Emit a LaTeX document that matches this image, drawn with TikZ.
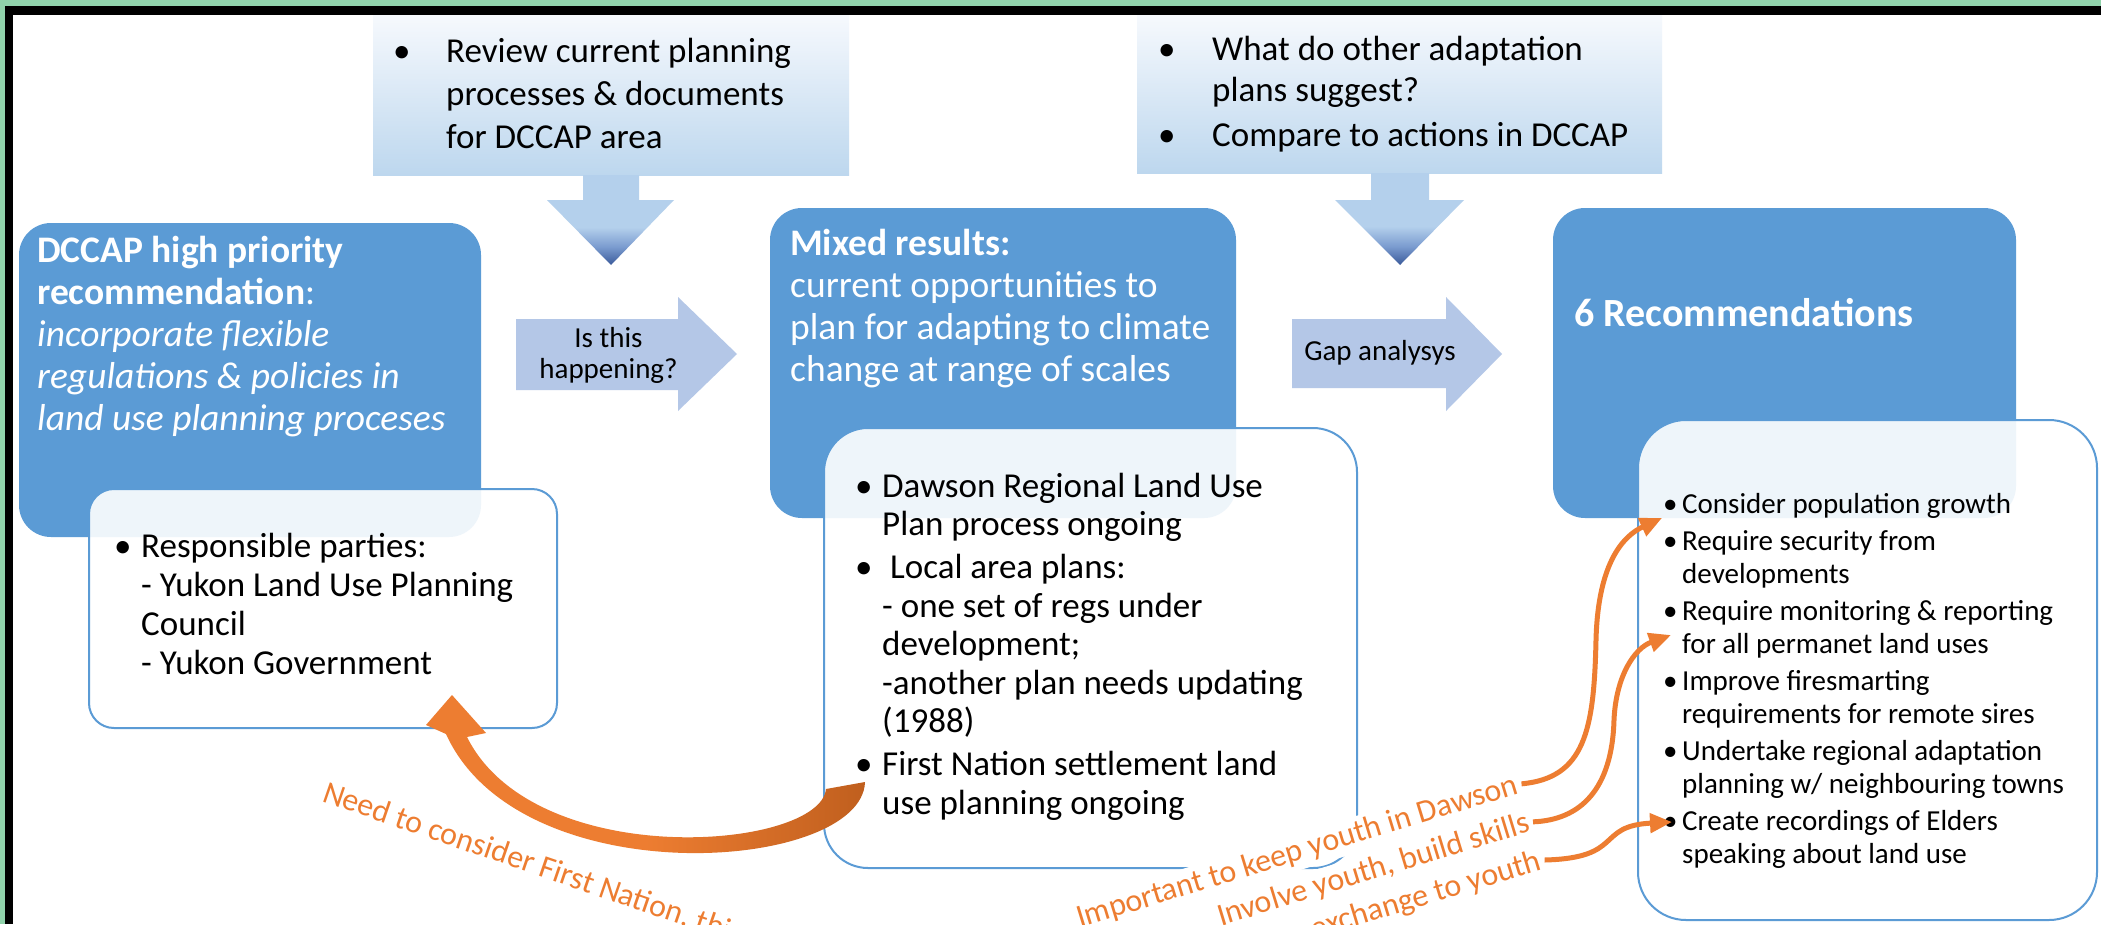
\documentclass[tikz,border=0pt]{standalone}
\usepackage{fontspec}
\setmainfont{Carlito}
\usetikzlibrary{arrows.meta}

\definecolor{edgegreen}{HTML}{90D3AB}
\definecolor{boxblue}{HTML}{5B9BD5}
\definecolor{paleblue}{HTML}{B4C7E7}
\definecolor{fadetop}{HTML}{F6F9FD}
\definecolor{fadebot}{HTML}{BDD7EE}
\definecolor{tiplight}{HTML}{B4D0EC}
\definecolor{tipmid}{HTML}{7A9BCF}
\definecolor{tipdark}{HTML}{3A5A9A}
\definecolor{accent}{HTML}{ED7D31}
\definecolor{accentdark}{HTML}{C05F1E}

\pgfdeclareverticalshading{dropshade}{100bp}{color(0bp)=(tipdark); color(25bp)=(tipdark); color(35bp)=(tipmid); color(46bp)=(tiplight); color(100bp)=(tiplight)}

\newcommand\bul[1]{\makebox[#1][l]{\textbullet}}
\newcommand\indt[1]{\hspace*{#1}}

\begin{document}
\begin{tikzpicture}[x=1pt, y=-1pt,
    blockbox/.style={fill=boxblue, rounded corners=32pt},
    panel/.style={draw=boxblue, line width=2pt, fill=white, fill opacity=0.9},
    fadebox/.style={top color=fadetop, bottom color=fadebot},
    droparrow/.style={shading=dropshade},
    sidearrow/.style={fill=paleblue},
    body/.style={inner sep=0, anchor=north west, align=left},
    note/.style={text=accent, font=\fontsize{32}{38}\selectfont},
    feed/.style={draw=accent, line width=5pt, -{Triangle[length=22pt,width=19pt]}}]
    \useasboundingbox (0,0) rectangle (2101,924);
    \clip (0,0) rectangle (2101,924);
    \fill[edgegreen] (0,0) rectangle (2101,924);
    \fill[white] (12.5,15) rectangle (2101,924);
    \fill[black] (4.5,6) rectangle (2101,15);
    \fill[black] (4.5,6) rectangle (12.5,924);

    \shade[fadebox] (373,15) rectangle (849,175);
    \shade[fadebox] (1137,15) rectangle (1662,173);
    \shade[droparrow] (583,175) -- (639,175) -- (639,200) -- (674,200) -- (611,265) -- (547,200) -- (583,200) -- cycle;
    \shade[droparrow] (1371,173) -- (1429,173) -- (1429,200) -- (1464,200) -- (1400,265) -- (1335,200) -- (1371,200) -- cycle;

    \fill[blockbox] (19,223) rectangle (481,537);
    \fill[blockbox] (770,208) rectangle (1236,518);
    \fill[blockbox] (1553,208) rectangle (2016,518);

    \fill[sidearrow] (516,319) -- (678,319) -- (678,297) -- (737,354) -- (678,411) -- (678,390) -- (516,390) -- cycle;
    \fill[sidearrow] (1292,319) -- (1446,319) -- (1446,297) -- (1502,354) -- (1446,411) -- (1446,388) -- (1292,388) -- cycle;

    \draw[panel, rounded corners=25pt] (89,489) rectangle (557,728);
    \draw[panel, rounded corners=44pt] (824,428) rectangle (1357,868);
    \draw[panel, rounded corners=48pt] (1638,420) rectangle (2097,920);

    \node[body, font=\fontsize{35}{43}\selectfont] (rev) at (393,31.9) {\bul{53pt}\strut Review current planning\\ \indt{53pt}processes \& documents\\ \indt{53pt}for DCCAP area};
    \node[body, font=\fontsize{35}{41}\selectfont] (cmp) at (1158,31.3) {\bul{54pt}\strut What do other adaptation\\ \indt{54pt}plans suggest?\\[4pt] \bul{54pt}Compare to actions in DCCAP};

    \node[body, text=white, font=\fontsize{37.5}{42}\selectfont] (dccap) at (37,232.6) {\strut\textbf{DCCAP high priority}\\ \textbf{recommendation}:\\ \textit{incorporate flexible}\\ \textit{regulations \& policies in}\\ \textit{land use planning proceses}};
    \node[body, text=white, font=\fontsize{37.5}{42}\selectfont] (mixed) at (790,225.6) {\strut\textbf{Mixed results:}\\ current opportunities to\\ plan for adapting to climate\\ change at range of scales};
    \node[text=white, font=\fontsize{40}{48}\selectfont\bfseries, inner sep=0, anchor=base west] (recs) at (1574,326) {6 Recommendations};

    \node[font=\fontsize{29}{31}\selectfont, align=center, inner sep=0, anchor=north] (happen) at (608.5,325.3) {\strut Is this\\ happening?};
    \node[font=\fontsize{29}{31}\selectfont, inner sep=0, anchor=base] (gap) at (1380,360) {Gap analysys};

    \node[body, font=\fontsize{35}{39}\selectfont] (resp) at (114,529.7) {\bul{27pt}\strut Responsible parties:\\ \indt{27pt}- Yukon Land Use Planning\\ \indt{27pt}Council\\ \indt{27pt}- Yukon Government};
    \node[body, font=\fontsize{35}{38.5}\selectfont] (local) at (855,470) {\bul{27pt}\strut Dawson Regional Land Use\\ \indt{27pt}Plan process ongoing\\[4.5pt] \bul{27pt}\ Local area plans:\\ \indt{27pt}- one set of regs under\\ \indt{27pt}development;\\ \indt{27pt}-another plan needs updating\\ \indt{27pt}(1988)\\[4.5pt] \bul{27pt}First Nation settlement land\\ \indt{27pt}use planning ongoing};
    \node[body, font=\fontsize{29}{33}\selectfont] (todo) at (1663,489.9) {\bul{19pt}\strut Consider population growth\\[4pt] \bul{19pt}Require security from\\ \indt{19pt}developments\\[4pt] \bul{19pt}Require monitoring \& reporting\\ \indt{19pt}for all permanet land uses\\[4pt] \bul{19pt}Improve firesmarting\\ \indt{19pt}requirements for remote sires\\[4pt] \bul{19pt}Undertake regional adaptation\\ \indt{19pt}planning w/ neighbouring towns\\[4pt] \bul{19pt}Create recordings of Elders\\ \indt{19pt}speaking about land use};

    \shade[left color=accent, right color=accentdark, middle color=accent] (826,789) -- (865,782) .. controls (862,872) and (520,897) .. (446,734) -- (426,725) -- (452,695) -- (486,733) -- (467,737) .. controls (535,873) and (820,850) .. (826,789) -- cycle;

    \node[note, rotate=-19, anchor=base west, inner sep=0] (fn) at (321,801) {Need to consider First Nation, thi};
    \node[note, fill=white, inner sep=4pt, rotate=17, anchor=base east] (y1) at (1524,792) {Important to keep youth in Dawson};
    \node[note, fill=white, inner sep=4pt, rotate=17, anchor=base east] (y2) at (1535.5,830) {Involve youth, build skills};
    \node[note, fill=white, inner sep=4pt, rotate=17, anchor=base east] (y3) at (1547,868) {exchange to youth};

    \coordinate (c1) at (1662,518);
    \coordinate (c2) at (1671,635);
    \coordinate (c3) at (1672,822);
    \draw[feed] (y1.east) .. controls (1585,778) and (1594,730) .. (1596,640) .. controls (1598,560) and (1625,535) .. (c1);
    \draw[feed] (y2.east) .. controls (1580,820) and (1612,790) .. (1614,720) .. controls (1616,675) and (1635,648) .. (c2);
    \draw[feed] (y3.east) .. controls (1625,858) and (1595,826) .. (c3);
\end{tikzpicture}
\end{document}
